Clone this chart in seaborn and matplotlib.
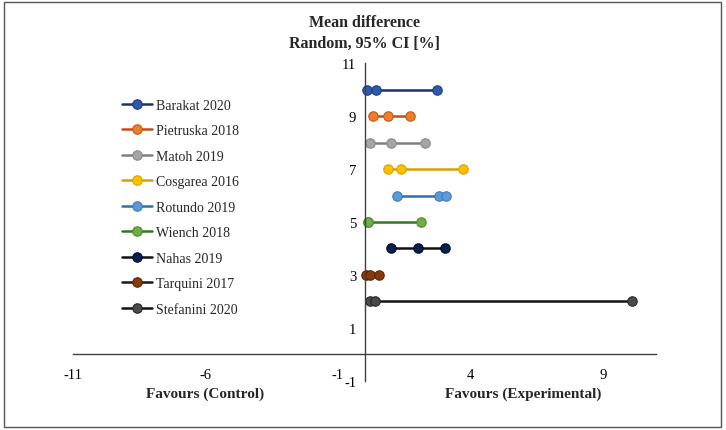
import numpy as np
import pandas as pd
import matplotlib.pyplot as plt
import seaborn as sns
from matplotlib.patches import Rectangle

studies = ['Barakat 2020', 'Pietruska 2018', 'Matoh 2019', 'Cosgarea 2016',
           'Rotundo 2019', 'Wiench 2018', 'Nahas 2019', 'Tarquini 2017',
           'Stefanini 2020']
row_pos = [10, 9, 8, 7, 6, 5, 4, 3, 2]
ci_low = [0.10, 0.31, 0.20, 0.88, 1.21, 0.12, 1.01, 0.05, 0.21]
mean_diff = [0.42, 0.88, 1.01, 1.36, 2.80, 0.12, 2.03, 0.22, 0.40]
ci_high = [2.74, 1.70, 2.28, 3.70, 3.08, 2.14, 3.05, 0.56, 10.08]

line_colors = ['#1f2f6b', '#c0501a', '#7f7f7f', '#d6a000', '#2e6fb0',
               '#2f7a1c', '#111111', '#1a1a1a', '#111111']
marker_colors = ['#2f5aa8', '#ed7d31', '#a5a5a5', '#ffc000', '#5b9bd5',
                 '#70ad47', '#0a1f4d', '#843c0c', '#4a4a4a']
edge_colors = ['#1f3c80', '#c55a11', '#8a8a8a', '#d9a300', '#3d7dbd',
               '#4e8a2e', '#000b2a', '#5c2306', '#262626']

x_ticks = [-11, -6, -1, 4, 9]
y_ticks = [-1, 1, 3, 5, 7, 9, 11]

sns.set_style('white')
plt.rcParams['font.family'] = ['Liberation Serif', 'DejaVu Serif']

fig = plt.figure(figsize=(7.26, 4.31), dpi=100)
ax = fig.add_axes([0.1006, 0.1137, 0.803, 0.7378])

for i, name in enumerate(studies):
    xs = [ci_low[i], mean_diff[i], ci_high[i]]
    ys = [row_pos[i]] * 3
    sns.lineplot(x=xs, y=ys, ax=ax, color=line_colors[i], marker='o',
                 markersize=6.8, markerfacecolor=marker_colors[i],
                 markeredgecolor=edge_colors[i], markeredgewidth=0.8,
                 linewidth=1.8, estimator=None, label=name)

ax.set_xlim(-11, 11)
ax.set_ylim(-1, 11)
for s in ['top', 'right']:
    ax.spines[s].set_visible(False)
ax.spines['left'].set_position(('data', 0))
ax.spines['bottom'].set_position(('data', 0))
for s in ['left', 'bottom']:
    ax.spines[s].set_color('#404040')
    ax.spines[s].set_linewidth(1.0)

ax.set_xticks(x_ticks)
ax.set_xticklabels([str(v) for v in x_ticks])
ax.set_yticks(y_ticks)
ax.set_yticklabels([str(v) for v in y_ticks])
ax.tick_params(axis='both', length=0, labelsize=10.5, colors='black')
ax.tick_params(axis='x', pad=10)
ax.tick_params(axis='y', pad=6)
ax.set_xlabel('')
ax.set_ylabel('')

ax.text(-6, -1.45, 'Favours (Control)', ha='center', va='center',
        fontsize=11, fontweight='bold', clip_on=False)
ax.text(6, -1.45, 'Favours (Experimental)', ha='center', va='center',
        fontsize=11, fontweight='bold', clip_on=False)

fig.text(0.502, 0.922, 'Mean difference\nRandom, 95% CI [%]', ha='center',
         va='center', fontsize=11.5, fontweight='bold', linespacing=1.45)

ax.legend(loc='upper left', bbox_to_anchor=(0.074, 0.905), frameon=False,
          fontsize=10, handlelength=2.2, handletextpad=0.25,
          labelspacing=0.9, borderaxespad=0)

fig.patches.append(Rectangle((0.006, 0.007), 0.987, 0.985,
                             transform=fig.transFigure, fill=False,
                             edgecolor='#555555', linewidth=1.0))

fig.savefig('out.png', dpi=100)
